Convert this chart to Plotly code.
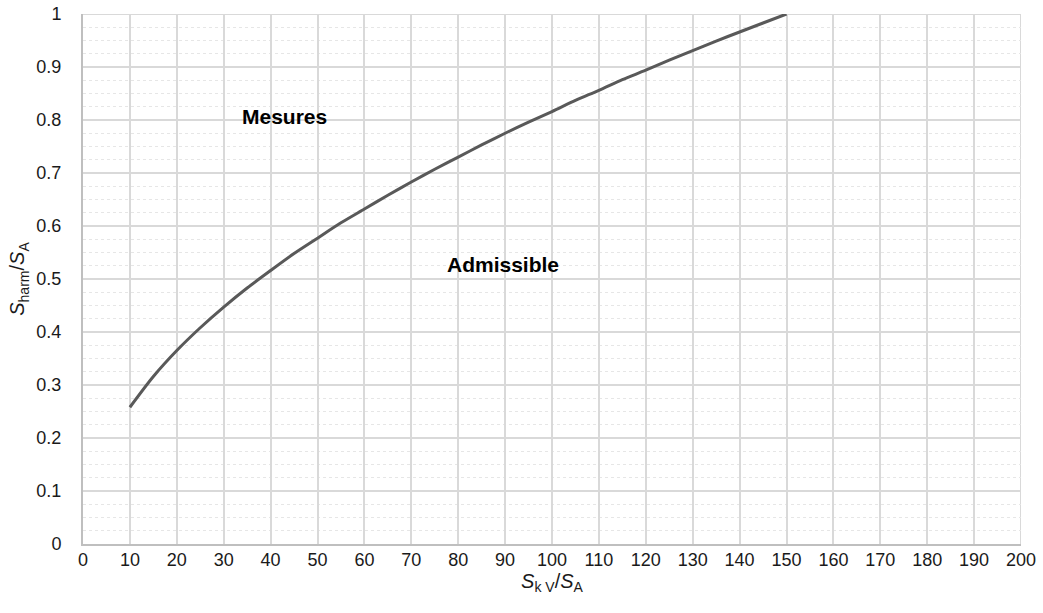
import plotly.graph_objects as go

x_vals = [10, 15, 20, 25, 30, 35, 40, 45, 50, 55, 60, 65, 70, 75, 80, 85, 90, 95,
          100, 105, 110, 115, 120, 125, 130, 135, 140, 145, 150]
y_vals = [0.258, 0.316, 0.365, 0.408, 0.447, 0.483, 0.516, 0.548, 0.577, 0.606,
          0.632, 0.658, 0.683, 0.707, 0.730, 0.753, 0.775, 0.796, 0.816, 0.837,
          0.856, 0.876, 0.894, 0.913, 0.931, 0.949, 0.966, 0.983, 1.0]
x_ticks = list(range(0, 201, 10))
y_ticks = [0, 0.1, 0.2, 0.3, 0.4, 0.5, 0.6, 0.7, 0.8, 0.9, 1]
y_tick_text = ["0", "0.1", "0.2", "0.3", "0.4", "0.5", "0.6", "0.7", "0.8", "0.9", "1"]
labels = ["Mesures", "Admissible"]
label_x = [43, 89.5]
label_y = [0.806, 0.528]

font = "Liberation Sans, Arial, sans-serif"

fig = go.Figure()
fig.add_trace(go.Scatter(x=x_vals, y=y_vals, mode="lines",
                         line=dict(color="#595959", width=3, shape="spline", smoothing=0.8),
                         showlegend=False, hoverinfo="skip"))
for t, lx, ly in zip(labels, label_x, label_y):
    fig.add_annotation(x=lx, y=ly, text=f"<b>{t}</b>", showarrow=False,
                       font=dict(family=font, size=21, color="#000000"))

fig.update_layout(
    width=1043, height=613,
    margin=dict(l=83, r=22, t=14, b=69),
    paper_bgcolor="white", plot_bgcolor="white",
    font=dict(family=font, size=18, color="#1a1a1a"),
    xaxis=dict(range=[0, 200], tickvals=x_ticks, ticktext=[str(v) for v in x_ticks],
               showgrid=True, gridcolor="#d9d9d9", gridwidth=2, automargin=False,
               showline=True, linecolor="#bfbfbf", linewidth=2, mirror=False,
               zeroline=False, ticks="", ticklen=0, ticklabelstandoff=-2,
               tickfont=dict(size=18),
               title=dict(text="<i>S</i><sub>k V</sub>/<i>S</i><sub>A</sub>",
                          font=dict(family=font, size=20), standoff=0)),
    yaxis=dict(range=[0, 1], tickvals=y_ticks, ticktext=y_tick_text,
               showgrid=True, gridcolor="#d9d9d9", gridwidth=2, automargin=False,
               showline=True, linecolor="#bfbfbf", linewidth=2,
               zeroline=False, ticks="", ticklen=0, ticklabelstandoff=16,
               tickfont=dict(size=18),
               minor=dict(dtick=0.025, showgrid=True, gridcolor="#e6e6e6",
                          griddash="dot", gridwidth=1),
               title=dict(text="<i>S</i><sub>harm</sub>/<i>S</i><sub>A</sub>",
                          font=dict(family=font, size=20), standoff=6)),
)
fig.add_shape(type="line", xref="x", yref="y", x0=200, x1=200, y0=0, y1=1,
              line=dict(color="#d9d9d9", width=2), layer="below")
fig.add_shape(type="line", xref="x", yref="y", x0=0, x1=200, y0=1, y1=1,
              line=dict(color="#d9d9d9", width=2), layer="below")

fig.write_html("out.html")
